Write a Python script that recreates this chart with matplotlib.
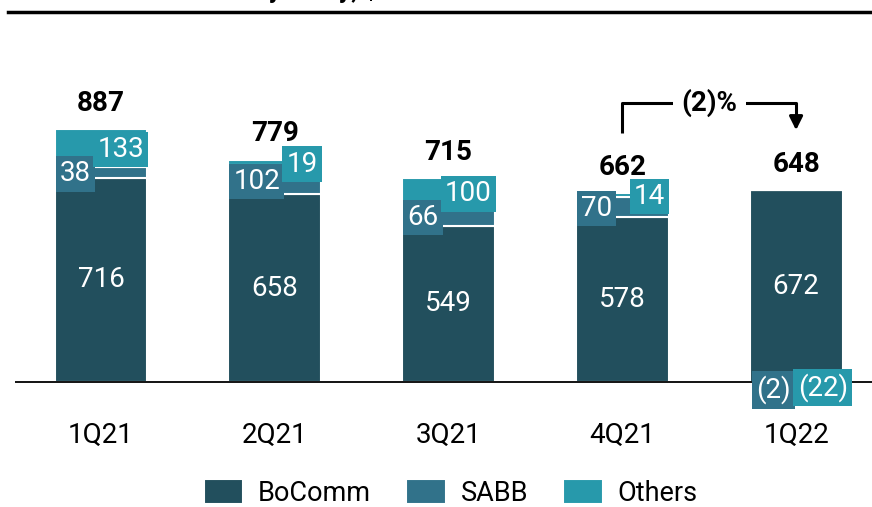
import matplotlib
matplotlib.use('Agg')
import matplotlib.pyplot as plt
from matplotlib.lines import Line2D
import numpy as np

plt.rcParams['font.family'] = ['Roboto', 'DejaVu Sans']

# 数据
quarters = ['1Q21', '2Q21', '3Q21', '4Q21', '1Q22']
bocomm = [716, 658, 549, 578, 672]
sabb = [38, 102, 66, 70, -2]
others = [133, 19, 100, 14, -22]
totals = [887, 779, 715, 662, 648]
change_label = '(2)%'
series_names = ['BoComm', 'SABB', 'Others']

c_bocomm = '#224f5d'
c_sabb = '#31728a'
c_others = '#2799ab'


def fmt(v):
    return '(%d)' % -v if v < 0 else '%d' % v


fig = plt.figure(figsize=(8.72, 5.07), dpi=100)
ax = fig.add_axes([15 / 872, 0.1622, 1 - 15 / 872, 0.6465])
ax.set_xlim(-0.495, 4.437)
ax.set_ylim(-150, 1000)
ax.axis('off')

x = np.arange(len(quarters))
w = 0.535
bocomm = np.array(bocomm)
sabb = np.array(sabb)
others = np.array(others)

# 正值堆叠，负值不画（太小）
sabb_pos = np.where(sabb > 0, sabb, 0)
oth_pos = np.where(others > 0, others, 0)
ax.bar(x, bocomm, w, color=c_bocomm, edgecolor='white', linewidth=1.5, label=series_names[0])
ax.bar(x, sabb_pos, w, bottom=bocomm, color=c_sabb, edgecolor='white', linewidth=1.5, label=series_names[1])
ax.bar(x, oth_pos, w, bottom=bocomm + sabb_pos, color=c_others, edgecolor='white', linewidth=1.5,
       label=series_names[2])

ax.axhline(0, color='black', linewidth=1.3)

fs = 20
box = 'square,pad=0.15'
for i in range(len(x)):
    # BoComm 标签
    ax.text(x[i], bocomm[i] / 2, fmt(bocomm[i]), ha='center', va='center', color='white',
            fontsize=fs)
    if sabb[i] > 0:
        ym = bocomm[i] + sabb[i] / 2
        ax.text(x[i] - w / 2 + 0.03, ym - 5, fmt(sabb[i]), ha='left', va='center', color='white',
                fontsize=fs, bbox=dict(boxstyle=box, fc=c_sabb, ec='none'))
        ym2 = bocomm[i] + sabb[i] + others[i] / 2
        ax.text(x[i] + w / 2 - 0.02, ym2 - 5, fmt(others[i]), ha='right', va='center', color='white',
                fontsize=fs, bbox=dict(boxstyle=box, fc=c_others, ec='none'))
    else:
        ax.text(x[i] - w / 2 + 0.04, -28, fmt(sabb[i]), ha='left', va='center', color='white',
                fontsize=fs, clip_on=False, bbox=dict(boxstyle=box, fc=c_sabb, ec='none'))
        ax.text(x[i] + w / 2 + 0.03, -20, fmt(others[i]), ha='right', va='center', color='white',
                fontsize=fs, clip_on=False, bbox=dict(boxstyle=box, fc=c_others, ec='none'))
    top = bocomm[i] + sabb_pos[i] + oth_pos[i]
    ax.annotate(str(totals[i]), (x[i], top), xytext=(0, 9), textcoords='offset points',
                ha='center', va='bottom', fontsize=fs, fontweight='bold', color='black')
    ax.text(x[i], -186, quarters[i], ha='center', va='center', fontsize=20, clip_on=False)

# (2)% 箭头
y_hi = 979
y_lo = 874
ax.plot([x[3], x[3], x[4], x[4]], [y_lo, y_hi, y_hi, y_lo + 40], color='black', lw=2.2,
        solid_capstyle='butt', clip_on=False)
ax.annotate('', xy=(x[4], y_lo), xytext=(x[4], y_lo + 45),
            arrowprops=dict(arrowstyle='-|>,head_width=0.4,head_length=0.8', color='black', lw=2.2))
ax.text((x[3] + x[4]) / 2, y_hi, change_label, ha='center', va='center', fontsize=20,
        fontweight='bold', bbox=dict(boxstyle='square,pad=0.3', fc='white', ec='none'))

# 顶部标题线（标题被截断）
fig.add_artist(Line2D([8 / 872, 1], [1 - 12 / 507, 1 - 12 / 507], color='black', lw=2.5))
fig.text(30 / 872, 1 + 2 / 507, "Associates' income by entity, $m", fontsize=18,
         fontweight='bold', va='baseline', ha='left')

fig.legend(loc='center', bbox_to_anchor=(0.517, 14 / 507), ncol=3, frameon=False,
           handlelength=1.45, handleheight=1.05, columnspacing=1.3,
           handletextpad=0.55, prop={'size': 19.5})

fig.savefig('out.png', dpi=100)
